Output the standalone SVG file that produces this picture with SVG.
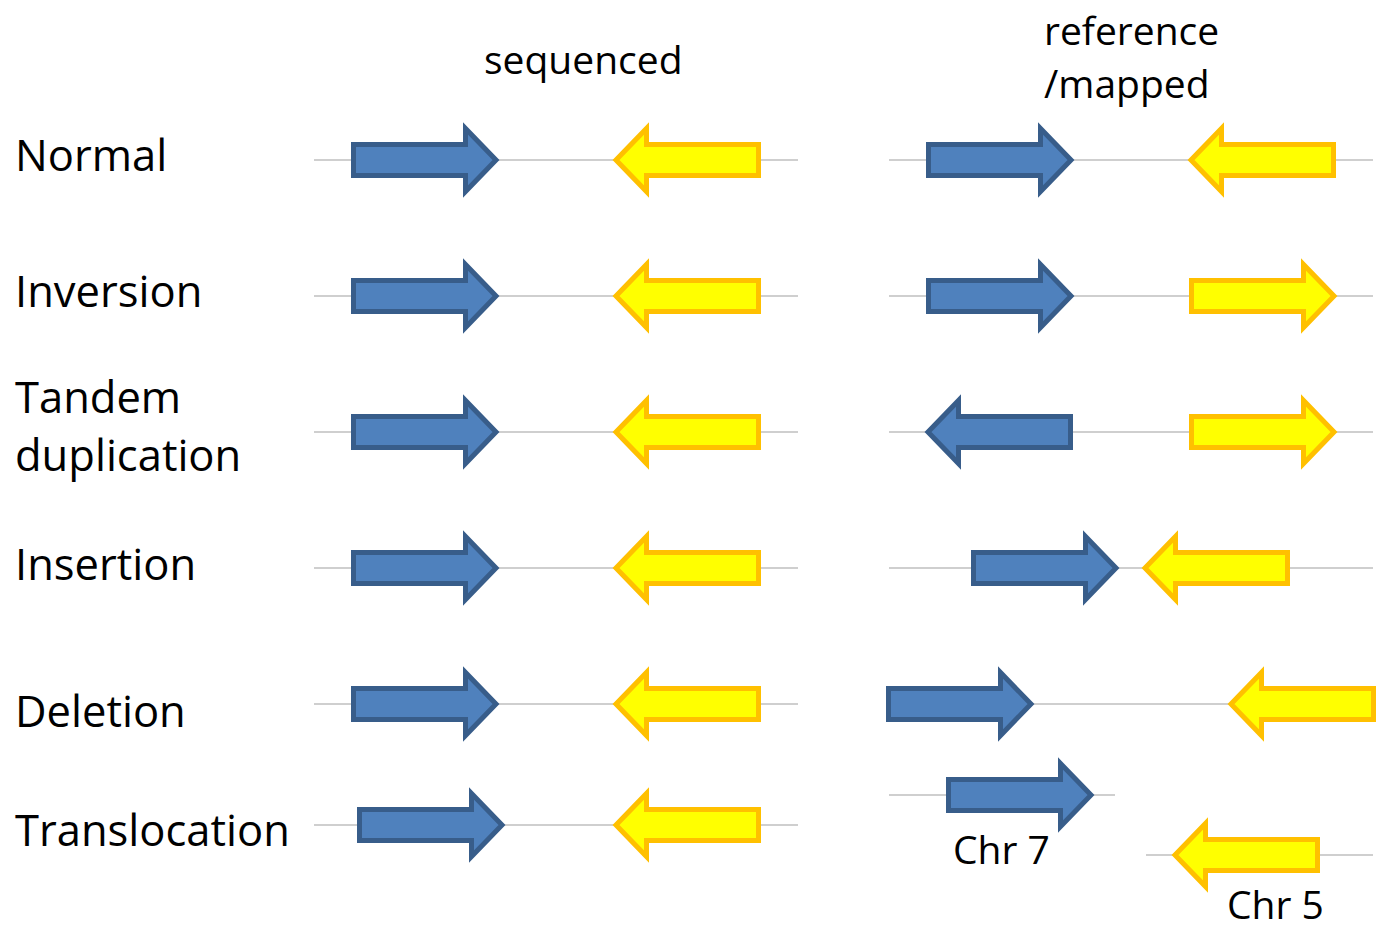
<svg xmlns="http://www.w3.org/2000/svg" xmlns:xlink="http://www.w3.org/1999/xlink" width="1376" height="930" viewBox="0 0 1376 930">
<style>
.ln{stroke:#BFBFBF;stroke-width:1.5;fill:none}
.b{fill:#4F81BD;stroke:#385D8A;stroke-width:5}
.y{fill:#FFFF00;stroke:#FFC000;stroke-width:5}
.lbl{font-family:"Open Sans","Liberation Sans",sans-serif;font-size:43.5px;fill:#000}
.sm{font-family:"Open Sans","Liberation Sans",sans-serif;font-size:39px;fill:#000}
</style>
<defs>
<path id="ra" d="M2.5,-15.5 H114.5 V-31.5 L145,0 L114.5,31.5 V15.5 H2.5 Z"/>
</defs>
<rect width="1376" height="930" fill="#fff"/>
<g id="lines">
<line class="ln" x1="314" y1="160" x2="798" y2="160"/>
<line class="ln" x1="889" y1="160" x2="1373" y2="160"/>
<line class="ln" x1="314" y1="296" x2="798" y2="296"/>
<line class="ln" x1="889" y1="296" x2="1373" y2="296"/>
<line class="ln" x1="314" y1="432" x2="798" y2="432"/>
<line class="ln" x1="889" y1="432" x2="1373" y2="432"/>
<line class="ln" x1="314" y1="568" x2="798" y2="568"/>
<line class="ln" x1="889" y1="568" x2="1373" y2="568"/>
<line class="ln" x1="314" y1="704" x2="798" y2="704"/>
<line class="ln" x1="889" y1="704" x2="1373" y2="704"/>
<line class="ln" x1="314" y1="825" x2="798" y2="825"/>
<line class="ln" x1="889" y1="795" x2="1115" y2="795"/>
<line class="ln" x1="1146" y1="855" x2="1373" y2="855"/>
</g>
<g id="headers">
<text class="sm" x="484" y="74">sequenced</text>
<text class="sm" x="1044" y="45">reference</text>
<text class="sm" x="1044" y="98">/mapped</text>
</g>
<g id="row-normal">
<text class="lbl" x="15" y="171">Normal</text>
<use href="#ra" class="b" transform="translate(351,160)"/>
<use href="#ra" class="y" transform="translate(761,160) scale(-1,1)"/>
<use href="#ra" class="b" transform="translate(926,160)"/>
<use href="#ra" class="y" transform="translate(1336,160) scale(-1,1)"/>
</g>
<g id="row-inversion">
<text class="lbl" x="15" y="307">Inversion</text>
<use href="#ra" class="b" transform="translate(351,296)"/>
<use href="#ra" class="y" transform="translate(761,296) scale(-1,1)"/>
<use href="#ra" class="b" transform="translate(926,296)"/>
<use href="#ra" class="y" transform="translate(1189,296)"/>
</g>
<g id="row-tandem">
<text class="lbl" x="15" y="413">Tandem</text>
<text class="lbl" x="15" y="471">duplication</text>
<use href="#ra" class="b" transform="translate(351,432)"/>
<use href="#ra" class="y" transform="translate(761,432) scale(-1,1)"/>
<use href="#ra" class="b" transform="translate(1073,432) scale(-1,1)"/>
<use href="#ra" class="y" transform="translate(1189,432)"/>
</g>
<g id="row-insertion">
<text class="lbl" x="15" y="580">Insertion</text>
<use href="#ra" class="b" transform="translate(351,568)"/>
<use href="#ra" class="y" transform="translate(761,568) scale(-1,1)"/>
<use href="#ra" class="b" transform="translate(971,568)"/>
<use href="#ra" class="y" transform="translate(1290,568) scale(-1,1)"/>
</g>
<g id="row-deletion">
<text class="lbl" x="15" y="727">Deletion</text>
<use href="#ra" class="b" transform="translate(351,704)"/>
<use href="#ra" class="y" transform="translate(761,704) scale(-1,1)"/>
<use href="#ra" class="b" transform="translate(886,704)"/>
<use href="#ra" class="y" transform="translate(1376,704) scale(-1,1)"/>
</g>
<g id="row-translocation">
<text class="lbl" x="15" y="846">Translocation</text>
<use href="#ra" class="b" transform="translate(357,825)"/>
<use href="#ra" class="y" transform="translate(761,825) scale(-1,1)"/>
<use href="#ra" class="b" transform="translate(946,795)"/>
<text class="sm" x="953" y="864">Chr 7</text>
<use href="#ra" class="y" transform="translate(1320,855) scale(-1,1)"/>
<text class="sm" x="1227" y="919">Chr 5</text>
</g>
</svg>
